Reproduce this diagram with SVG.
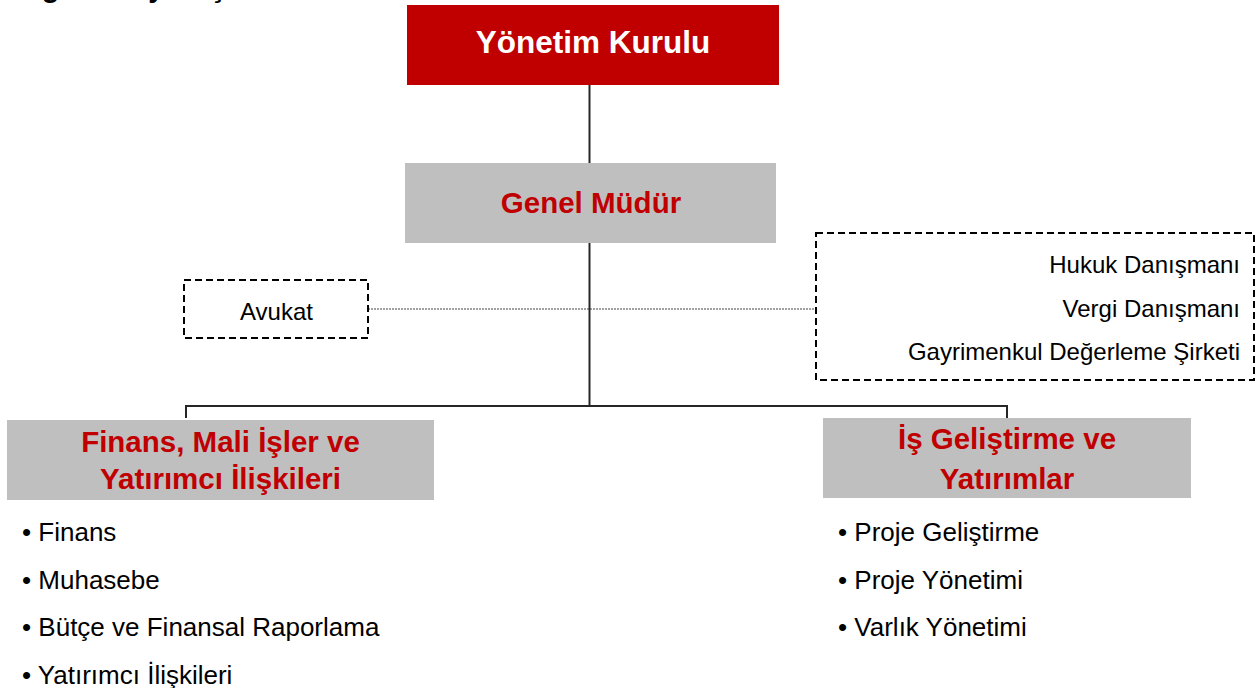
<svg xmlns="http://www.w3.org/2000/svg" width="1258" height="688" viewBox="0 0 1258 688">
<style>
.bold{font-family:"Liberation Sans",Arial,sans-serif;font-weight:bold;}
.reg{font-family:"Liberation Sans",Arial,sans-serif;font-size:24px;fill:#000;}
.bul{font-family:"Liberation Sans",Arial,sans-serif;font-size:26px;fill:#000;}
.red{fill:#C00000;}
.grey{fill:#BFBFBF;}
.head{font-size:29.5px;fill:#C00000;text-anchor:middle;}
.dash{fill:none;stroke:#000;stroke-width:2;stroke-dasharray:7 4;}
.conn{fill:none;stroke:#262626;stroke-width:2;}
.dot{fill:none;stroke:#444;stroke-width:1.2;stroke-dasharray:2 1;}
</style>
<rect width="1258" height="688" fill="#fff"/>
<text class="bold" x="8" y="-3" font-size="29" fill="#000">Organizasyon Şeması</text>
<g id="connectors">
<line class="conn" x1="589.5" y1="84" x2="589.5" y2="163"/>
<line class="dot" x1="368" y1="309" x2="816" y2="309"/>
<line class="conn" x1="589.5" y1="243" x2="589.5" y2="406"/>
<polyline class="conn" points="186,418 186,406 1007,406 1007,418"/>
</g>
<g id="yonetim-kurulu">
<rect class="red" x="407" y="5" width="372" height="80"/>
<text class="bold" x="593" y="53" font-size="31.5" fill="#fff" text-anchor="middle">Yönetim Kurulu</text>
</g>
<g id="genel-mudur">
<rect class="grey" x="405" y="163" width="371" height="80"/>
<text class="bold head" x="591" y="212.5">Genel Müdür</text>
</g>
<g id="avukat">
<rect class="dash" x="184" y="280" width="184" height="58"/>
<text class="reg" x="276.5" y="320" text-anchor="middle">Avukat</text>
</g>
<g id="danismanlar">
<rect class="dash" x="816" y="233" width="438" height="147"/>
<text class="reg" x="1240" y="273" text-anchor="end">Hukuk Danışmanı</text>
<text class="reg" x="1240" y="316.5" text-anchor="end">Vergi Danışmanı</text>
<text class="reg" x="1240" y="360" text-anchor="end">Gayrimenkul Değerleme Şirketi</text>
</g>
<g id="finans">
<rect class="grey" x="7" y="420" width="427" height="80"/>
<text class="bold head" x="220.5" y="452">Finans, Mali İşler ve</text>
<text class="bold head" x="220.5" y="489">Yatırımcı İlişkileri</text>
</g>
<g id="finans-items">
<text class="bul" x="22" y="541">• Finans</text>
<text class="bul" x="22" y="588.5">• Muhasebe</text>
<text class="bul" x="22" y="636">• Bütçe ve Finansal Raporlama</text>
<text class="bul" x="22" y="683.5">• Yatırımcı İlişkileri</text>
</g>
<g id="is-gelistirme">
<rect class="grey" x="823" y="418" width="368" height="80"/>
<text class="bold head" x="1007" y="449">İş Geliştirme ve</text>
<text class="bold head" x="1007" y="489">Yatırımlar</text>
</g>
<g id="is-gelistirme-items">
<text class="bul" x="838" y="541">• Proje Geliştirme</text>
<text class="bul" x="838" y="588.5">• Proje Yönetimi</text>
<text class="bul" x="838" y="636">• Varlık Yönetimi</text>
</g>
</svg>
